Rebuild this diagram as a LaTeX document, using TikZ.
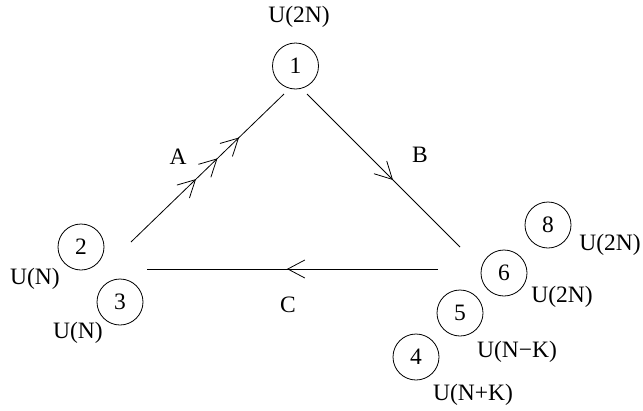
\documentclass[tikz,border=0pt]{standalone}
\usepackage{fontspec}
\setmainfont{Liberation Serif}
\usetikzlibrary{arrows.meta,decorations.markings}
\begin{document}
\begin{tikzpicture}[x=1pt,y=-1pt,
  every node/.style={font=\fontsize{23.5}{28}\selectfont},
  gnode/.style={circle,draw,line width=0.8pt,minimum size=46pt,inner sep=0pt},
  lbl/.style={inner sep=0pt},
  edge/.style={line width=0.8pt},
  barb/.tip={Straight Barb[length=17pt,width=18pt,line width=0.8pt]}]
\useasboundingbox (0,0) rectangle (643,410);
% gauge groups
\node[gnode] (n1) at (295.5,66) {1};
\node[gnode] (n2) at (81,247) {2};
\node[gnode] (n3) at (120,302) {3};
\node[gnode] (n4) at (416,357) {4};
\node[gnode] (n5) at (460,313) {5};
\node[gnode] (n6) at (504,273) {6};
\node[gnode] (n8) at (548,225) {8};
% labels
\node[lbl] (l1) at (299,17) {U(2N)};
\node[lbl] (l2) at (35,279) {U(N)};
\node[lbl] (l3) at (78,333) {U(N)};
\node[lbl] (l4) at (473,395) {U(N+K)};
\node[lbl] (l5) at (517,352) {U(N−K)};
\node[lbl] (l6) at (562,297) {U(2N)};
\node[lbl] (l8) at (610,245) {U(2N)};
\node[lbl] (la) at (178,157) {A};
\node[lbl] (lb) at (420,155) {B};
\node[lbl] (lc) at (288,305) {C};
% edge end points
\coordinate (a0) at (131,242);
\coordinate (a1) at (284,94);
\coordinate (b0) at (307,94);
\coordinate (b1) at (460,247);
\coordinate (c0) at (438,269);
\coordinate (c1) at (147,269);
% edges
\draw[edge,decoration={markings,
   mark=at position 0.425 with {\arrow{barb}},
   mark=at position 0.565 with {\arrow{barb}},
   mark=at position 0.706 with {\arrow{barb}}},postaction={decorate}]
   (a0) -- (a1);
\draw[edge,decoration={markings,
   mark=at position 0.562 with {\arrow{barb}}},postaction={decorate}]
   (b0) -- (b1);
\draw[edge,decoration={markings,
   mark=at position 0.519 with {\arrow{barb}}},postaction={decorate}]
   (c0) -- (c1);
\end{tikzpicture}
\end{document}
